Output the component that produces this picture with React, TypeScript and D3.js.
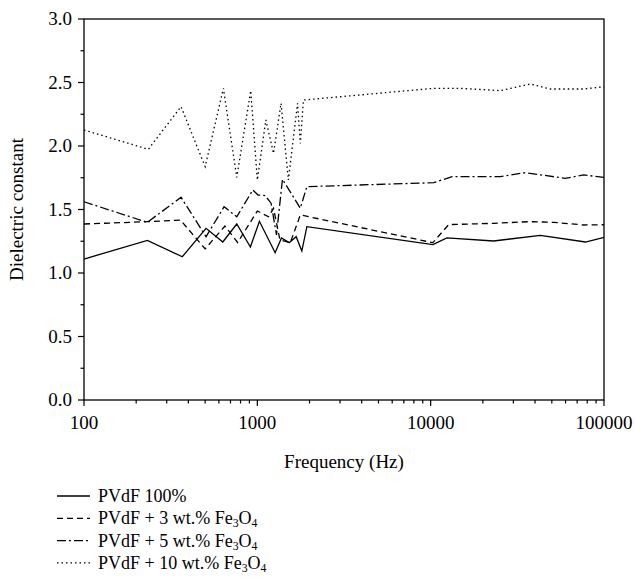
import React from "react";
import * as d3 from "d3";

const seriesNames = [
  "PVdF 100%",
  "PVdF + 3 wt.% Fe3O4",
  "PVdF + 5 wt.% Fe3O4",
  "PVdF + 10 wt.% Fe3O4",
];

const freqPure = [100, 232, 369, 506, 632, 761, 912, 1028, 1267, 1378, 1527, 1675, 1806, 1931, 10300, 12400, 23100, 42900, 78200, 100000];
const valPure = [1.11, 1.257, 1.128, 1.352, 1.244, 1.386, 1.205, 1.407, 1.16, 1.276, 1.239, 1.286, 1.173, 1.365, 1.223, 1.276, 1.252, 1.297, 1.244, 1.281];

const freq3 = [100, 232, 360, 500, 650, 770, 1000, 1160, 1240, 1350, 1550, 1770, 10300, 12700, 23100, 36700, 51300, 76300, 100000];
const val3 = [1.386, 1.404, 1.417, 1.19, 1.37, 1.24, 1.488, 1.443, 1.509, 1.26, 1.239, 1.457, 1.239, 1.381, 1.391, 1.404, 1.399, 1.378, 1.38];

const freq5 = [100, 232, 363, 506, 643, 761, 942, 1010, 1110, 1200, 1290, 1396, 1770, 1931, 10400, 13300, 25200, 35200, 59800, 76300, 100000];
const val5 = [1.561, 1.399, 1.596, 1.286, 1.522, 1.443, 1.654, 1.614, 1.609, 1.55, 1.3, 1.738, 1.51, 1.68, 1.711, 1.759, 1.759, 1.79, 1.745, 1.772, 1.753];

const freq10 = [100, 235, 363, 500, 637, 761, 916, 1000, 1120, 1240, 1370, 1510, 1706, 1770, 1845, 10400, 14800, 25200, 37600, 49000, 76300, 100000];
const val10 = [2.126, 1.974, 2.31, 1.837, 2.454, 1.753, 2.436, 1.732, 2.205, 1.942, 2.336, 1.732, 2.336, 2.02, 2.362, 2.454, 2.454, 2.436, 2.488, 2.449, 2.449, 2.467];

const xTicks = [100, 1000, 10000, 100000];
const yTicks = [0, 0.5, 1.0, 1.5, 2.0, 2.5, 3.0];

const dashes = ["none", "6,4", "9,3,2,3", "1.5,3"];

const W = 635;
const H = 588;
const left = 84;
const right = 604;
const top = 19;
const bottom = 400;
const FONT = "'Liberation Serif', 'Times New Roman', 'DejaVu Serif', serif";
const FS = 19;
const LFS = 18;
const textStyle = { fontFamily: FONT, fontSize: FS };
const legendStyle = { fontFamily: FONT, fontSize: LFS };

export default function App() {
  const x = d3.scaleLog().domain([100, 100000]).range([left, right]);
  const y = d3.scaleLinear().domain([0, 3]).range([bottom, top]);
  const line = d3
    .line<[number, number]>()
    .x((d) => x(d[0]))
    .y((d) => y(d[1]));

  const all = [
    freqPure.map((f, i) => [f, valPure[i]] as [number, number]),
    freq3.map((f, i) => [f, val3[i]] as [number, number]),
    freq5.map((f, i) => [f, val5[i]] as [number, number]),
    freq10.map((f, i) => [f, val10[i]] as [number, number]),
  ];

  const minorX: number[] = [];
  for (let dec = 100; dec < 100000; dec *= 10) {
    for (let m = 2; m <= 9; m++) minorX.push(dec * m);
  }
  const minorY: number[] = [];
  for (let v = 0.25; v < 3; v += 0.5) minorY.push(v);

  const legendX = 57;
  const legendY0 = 496;
  const legendDy = 22.3;

  const renderLabel = (name: string) => {
    const m = name.match(/^(.*)Fe3O4$/);
    if (!m) return name;
    const sub = LFS * 0.65;
    return (
      <>
        {m[1]}Fe
        <tspan dy={3} style={{ fontSize: sub }}>3</tspan>
        <tspan dy={-3}>O</tspan>
        <tspan dy={3} style={{ fontSize: sub }}>4</tspan>
      </>
    );
  };

  return (
    <svg width={W} height={H} style={{ display: "block", position: "absolute", left: 0, top: 0 }}>
      <rect x={0} y={0} width={W} height={H} fill="#fff" />
      <g fill="none" stroke="#000" strokeWidth={1.3}>
        {all.map((d, i) => (
          <path key={i} d={line(d) || ""} strokeDasharray={dashes[i]} />
        ))}
      </g>
      <rect x={left} y={top} width={right - left} height={bottom - top} fill="none" stroke="#000" strokeWidth={1.3} />
      <g stroke="#000" strokeWidth={1.2}>
        {yTicks.map((t) => (
          <line key={"y" + t} x1={left - 6} x2={left} y1={y(t)} y2={y(t)} />
        ))}
        {minorY.map((t) => (
          <line key={"ym" + t} x1={left - 3.5} x2={left} y1={y(t)} y2={y(t)} />
        ))}
        {xTicks.map((t) => (
          <line key={"x" + t} x1={x(t)} x2={x(t)} y1={bottom} y2={bottom + 6} />
        ))}
        {minorX.map((t) => (
          <line key={"xm" + t} x1={x(t)} x2={x(t)} y1={bottom} y2={bottom + 3.5} />
        ))}
      </g>
      <g fill="#000">
        {yTicks.map((t) => (
          <text key={"yl" + t} x={left - 12} y={y(t)} dy="0.33em" textAnchor="end" style={textStyle}>
            {t.toFixed(1)}
          </text>
        ))}
        {xTicks.map((t) => (
          <text key={"xl" + t} x={x(t)} y={bottom + 29} textAnchor="middle" style={textStyle}>
            {String(t)}
          </text>
        ))}
        <text x={(left + right) / 2} y={468} textAnchor="middle" style={textStyle}>
          Frequency (Hz)
        </text>
        <text transform={`translate(23, ${(top + bottom) / 2}) rotate(-90)`} textAnchor="middle" style={textStyle}>
          Dielectric constant
        </text>
      </g>
      <g>
        {seriesNames.map((name, i) => (
          <g key={name}>
            <line
              x1={legendX}
              x2={legendX + 33}
              y1={legendY0 + i * legendDy}
              y2={legendY0 + i * legendDy}
              stroke="#000"
              strokeWidth={1.3}
              strokeDasharray={dashes[i]}
            />
            <text x={legendX + 41} y={legendY0 + i * legendDy} dy="0.33em" fill="#000" style={legendStyle}>
              {renderLabel(name)}
            </text>
          </g>
        ))}
      </g>
    </svg>
  );
}
